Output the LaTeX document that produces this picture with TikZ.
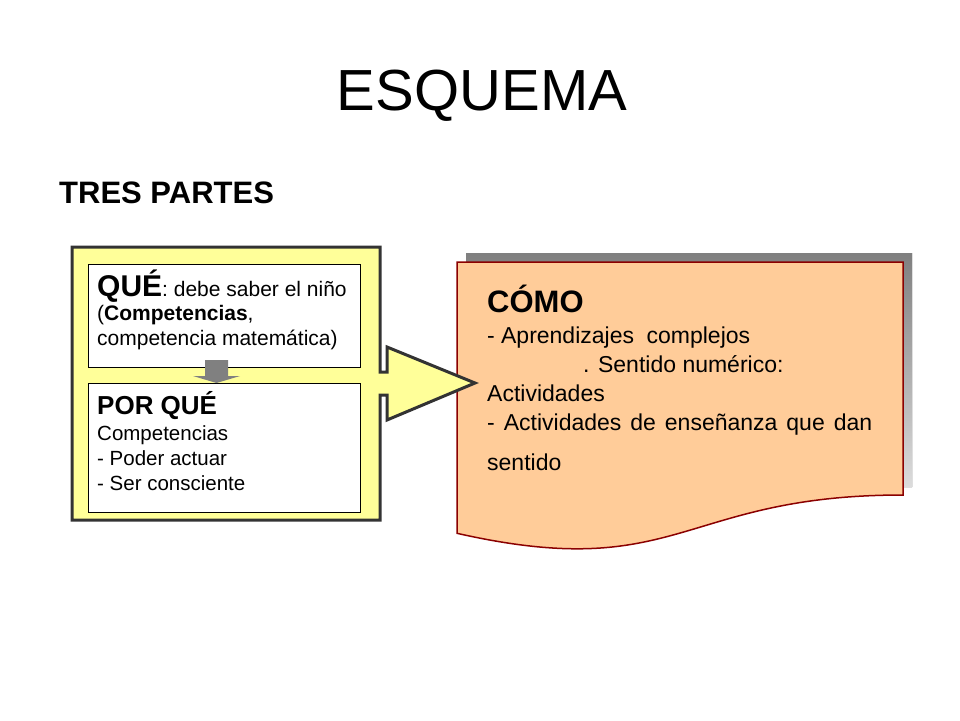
\documentclass[tikz,border=0pt]{standalone}
\usepackage{fontspec}
\setmainfont{Liberation Sans}
\definecolor{yel}{HTML}{FFFF99}
\definecolor{peach}{HTML}{FFCC99}
\definecolor{dred}{HTML}{8B0000}
\definecolor{shade}{HTML}{C0C0C0}
\definecolor{garrow}{HTML}{808080}
\definecolor{outl}{HTML}{333333}
\newcommand{\fsz}[1]{\fontsize{#1}{#1}\selectfont}
\begin{document}
\begin{tikzpicture}[x=1pt,y=-1pt,
  txt/.style={anchor=base west,inner sep=0pt},
  innerbox/.style={draw=black,fill=white,line width=1pt},
  docshape/.style={fill=peach,draw=dred,line width=1.5pt,line join=miter},
  callout/.style={fill=yel,draw=outl,line width=3pt,line join=miter}]
\useasboundingbox (0,0) rectangle (960,720);
\fill[white] (0,0) rectangle (960,720);
% title
\node[anchor=base,inner sep=0pt] (title) at (482,110) {\fsz{58}ESQUEMA};
\node[txt] (tres) at (59,203) {\fsz{31}\bfseries TRES PARTES};
% document shadow and shape
\fill[shade] (466,253) -- (912,253) -- (912,487) .. controls (689,487) and (689,575.7) .. (466,525.3) -- cycle;
\draw[docshape] (457,262) -- (903,262) -- (903,495) .. controls (680,495) and (680,583.7) .. (457,533.3) -- cycle;
% yellow callout with right arrow
\draw[callout] (72,247) -- (380,247) -- (380,372) -- (387,372) -- (387,347) -- (475,383) -- (387,420) -- (387,395) -- (380,395) -- (380,520) -- (72,520) -- cycle;
% inner boxes
\draw[innerbox] (88,264) rectangle (360,367);
\draw[innerbox] (88,383) rectangle (360,512);
% gray down arrow
\fill[garrow] (205,360) -- (228,360) -- (228,376) -- (240,376) -- (216.5,383) -- (193,376) -- (205,376) -- cycle;
% QUE box text
\node[txt] (que1) at (97,296) {\fsz{30}\bfseries QUÉ\fsz{21}\mdseries: debe saber el niño};
\node[txt] (que2) at (97,320) {\fsz{21}(\textbf{Competencias},};
\node[txt] (que3) at (97,345) {\fsz{21}competencia matemática)};
% POR QUE box text
\node[txt] (por1) at (97,414) {\fsz{26}\bfseries POR QUÉ};
\node[txt] (por2) at (97,440) {\fsz{20.5}Competencias};
\node[txt] (por3) at (97,465) {\fsz{20.5}- Poder actuar};
\node[txt] (por4) at (97,490) {\fsz{20.5}- Ser consciente};
% COMO text
\node[txt] (como) at (487,312) {\fsz{31}\bfseries CÓMO};
\node[txt] (c1) at (487,343) {\fsz{23}\makebox[263pt][s]{- Aprendizajes\ \ complejos}};
\node[txt] (c2) at (583,372) {\fsz{23}. Sentido numérico:};
\node[txt] (c3) at (487,401) {\fsz{23}Actividades};
\node[txt] (c4) at (487,430) {\fsz{23}\makebox[385pt][s]{- Actividades de enseñanza que dan}};
\node[txt] (c5) at (487,470) {\fsz{23}sentido};
\end{tikzpicture}
\end{document}
